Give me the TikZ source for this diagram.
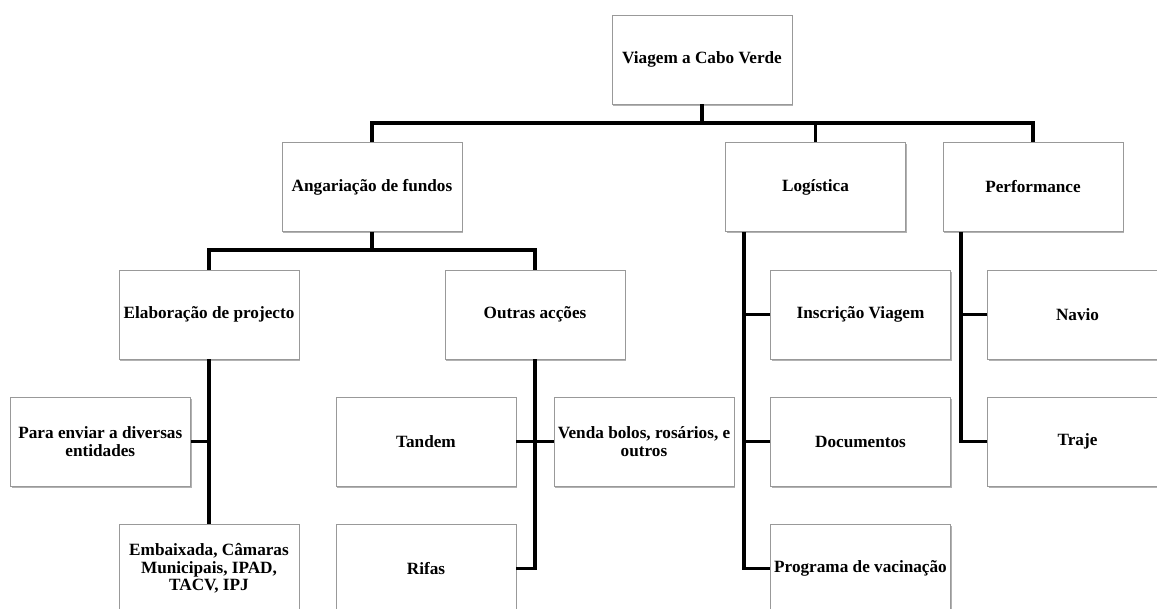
\documentclass[tikz,border=0pt]{standalone}
\usepackage{fontspec}
\setmainfont{Liberation Serif}
\usetikzlibrary{shadows}
\begin{document}
\begin{tikzpicture}[x=1pt,y=-1pt,
  box/.style={draw=black!40, line width=0.9pt, fill=white, rectangle,
    minimum width=180pt, minimum height=89pt, inner sep=0pt, align=center,
    font=\fontsize{17.2}{17.6}\selectfont\bfseries,
    drop shadow={shadow xshift=1.2pt, shadow yshift=-1.6pt, opacity=0.3, fill=black}},
  conn/.style={line width=3.2pt, draw=black}]
\useasboundingbox (0,0) rectangle (1157,609);
\clip (0,0) rectangle (1157,609);
\coordinate (b1) at (0,123);
\coordinate (b2) at (0,250);
\coordinate (lv) at (744,0);
\coordinate (pv) at (961,0);
% nodes
\node[box] (root) at (702,59.5) {Viagem a Cabo Verde};
\node[box] (ang) at (372,187) {Angariação de fundos};
\node[box] (log) at (815.5,187) {Logística};
\node[box] (perf) at (1033,187) {Performance};
\node[box] (elab) at (209,314.5) {Elaboração de projecto};
\node[box] (outras) at (535,314.5) {Outras acções};
\node[box] (insc) at (860.5,314.5) {Inscrição Viagem};
\node[box] (navio) at (1077.5,314.5) {Navio};
\node[box] (para) at (100.3,441.5) {Para enviar a diversas\\entidades};
\node[box] (tandem) at (426,441.5) {Tandem};
\node[box] (venda) at (644,441.5) {Venda bolos, rosários, e\\outros};
\node[box] (docs) at (860.5,441.5) {Documentos};
\node[box] (traje) at (1077.5,441.5) {Traje};
\node[box] (emb) at (209,568.5) {Embaixada, Câmaras\\Municipais, IPAD,\\TACV, IPJ};
\node[box] (rifas) at (426,568.5) {Rifas};
\node[box] (prog) at (860.5,568.5) {Programa de vacinação};
% connectors
\draw[conn] (root.south) -- (root.south |- b1);
\draw[conn] (ang.north) -- (ang.north |- b1) -- (perf.north |- b1) -- (perf.north);
\draw[conn] (log.north) -- (log.north |- b1);
\draw[conn] (ang.south) -- (ang.south |- b2);
\draw[conn] (elab.north) -- (elab.north |- b2) -- (outras.north |- b2) -- (outras.north);
\draw[conn] (elab.south) -- (emb.north);
\draw[conn] (para.east) -- (para.east -| elab.south);
\draw[conn] (outras.south) |- (rifas.east);
\draw[conn] (tandem.east) -- (venda.west);
\draw[conn] (log.south -| lv) |- (prog.west);
\draw[conn] (insc.west) -- (insc.west -| lv);
\draw[conn] (docs.west) -- (docs.west -| lv);
\draw[conn] (perf.south -| pv) |- (traje.west);
\draw[conn] (navio.west) -- (navio.west -| pv);
\end{tikzpicture}
\end{document}
